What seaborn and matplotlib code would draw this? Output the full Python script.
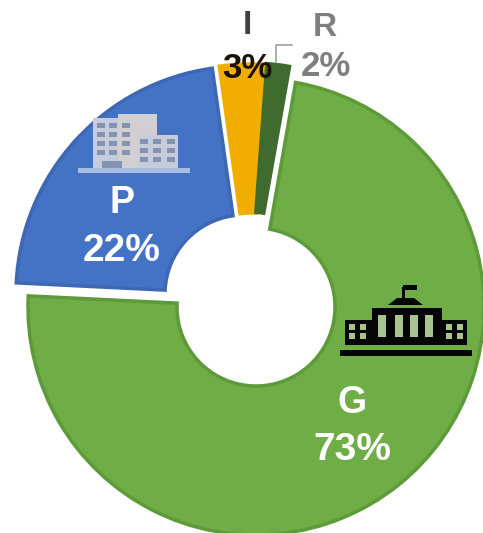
import matplotlib
matplotlib.use("Agg")
import matplotlib.pyplot as plt
from matplotlib.patches import Rectangle, Polygon
import seaborn as sns

sns.set_theme(style="white")
plt.rcParams['font.family'] = ['Liberation Sans', 'DejaVu Sans']

categories = ["G", "P", "I", "R"]
labels = ["73%", "22%", "3%", "2%"]
shares = [73, 22, 3.4, 1.6]
colors = ["#6FAD46", "#4472C4", "#F2AE00", "#3F6B2E"]
edges = ["#5E9A3A", "#3F68B4", "#F2AE00", "#3F6B2E"]
shift_x = [0, -12, -5, -6]
shift_y = [0, 13, 15, 16]

W, H = 483, 533
R, HOLE = 228, 79
cx, cy = 256, 307

fig = plt.figure(figsize=(W / 100, H / 100), dpi=100, facecolor="white")
ax = fig.add_axes([0, 0, 1, 1])
wedges, _ = ax.pie(shares, colors=colors, startangle=80, counterclock=False,
                   center=(cx, H - cy), radius=R, frame=True,
                   wedgeprops=dict(width=R - HOLE, linewidth=2.5))
for w, e, dx, dy in zip(wedges, edges, shift_x, shift_y):
    w.set_edgecolor(e)
    w.set_center((cx + dx, H - cy + dy))
ax.set_xlim(0, W)
ax.set_ylim(0, H)
ax.set_aspect("equal")
ax.axis("off")


def box(x0, y0, x1, y1, c, z=5):
    ax.add_patch(Rectangle((x0, H - y1), x1 - x0, y1 - y0, fc=c, ec="none", zorder=z))


# government building icon
K = "#050505"
L = "#A9C48F"
box(340, 350, 472, 356, K)
box(345, 320, 467, 345, K)
box(372, 308, 442, 320, K)
ax.add_patch(Polygon([(388, H - 305), (397, H - 298), (414, H - 298), (423, H - 305)],
                     fc=K, ec="none", zorder=5))
box(402, 287, 405, 298, K)
box(403, 285, 417, 290, K)
for x0 in (378, 395, 410, 425):
    box(x0, 315, x0 + 8, 337, L, 6)
for x0 in (349, 360, 446, 457):
    box(x0, 324, x0 + 6, 330, L, 6)
    box(x0, 333, x0 + 6, 339, L, 6)

# office building icon
B = "#C6CCDA"
W2 = "#8593B2"
box(78, 168, 190, 173, "#A8BCE4")
box(93, 118, 118, 168, B)
box(118, 114, 157, 168, "#D2CFD2")
box(138, 135, 178, 168, B)
for x0 in (97, 109, 122):
    for y0 in range(123, 157, 9):
        box(x0, y0, x0 + 8, y0 + 5, W2, 6)
for x0 in (140, 153, 167):
    for y0 in range(139, 165, 9):
        box(x0, y0, x0 + 8, y0 + 5, W2, 6)
box(102, 161, 122, 168, W2, 6)

# leader line for R
ax.plot([276, 276, 292], [H - 62, H - 45, H - 45], color="#A6A6A6", lw=1.3, zorder=4)

GRAY = "#7F7F7F"
txt = [
    (352, 403, categories[0], "white", 27),
    (352, 450, labels[0], "white", 28),
    (122, 203, categories[1], "white", 27),
    (122, 251, labels[1], "white", 28),
    (247, 26, categories[2], "#404040", 24),
    (247, 68, labels[2], "#1A1208", 25),
    (325, 27, categories[3], GRAY, 24),
    (326, 66, labels[3], GRAY, 25),
]
for x, y, s, c, fs in txt:
    ax.text(x, H - y, s, color=c, fontsize=fs, fontweight="bold",
            ha="center", va="center", zorder=8)

fig.savefig("out.png", dpi=100, facecolor="white")
